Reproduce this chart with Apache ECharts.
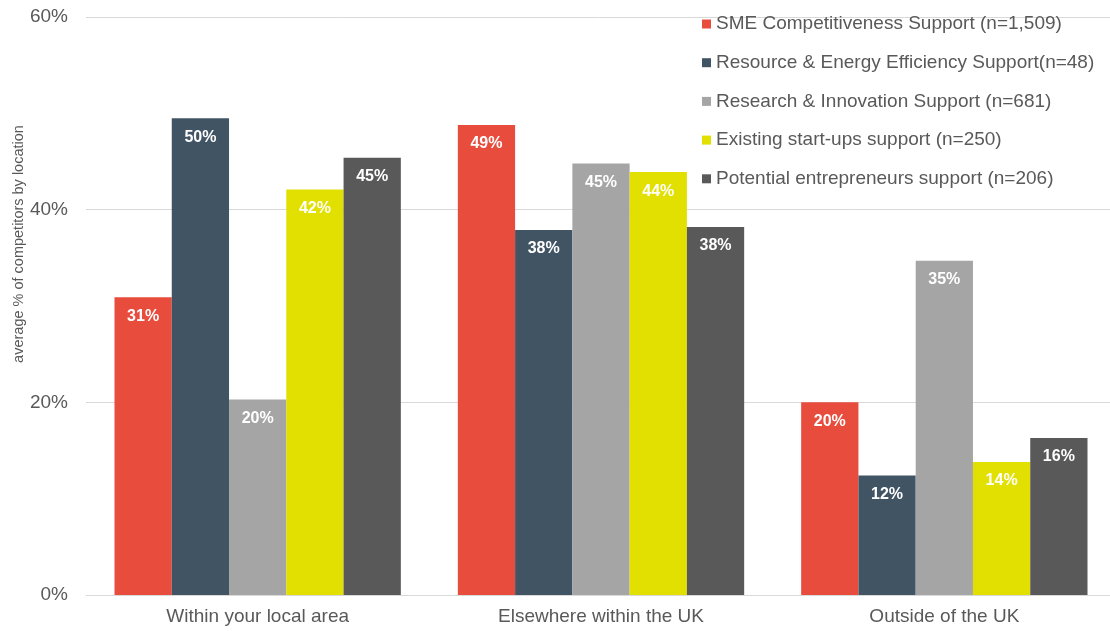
<!DOCTYPE html>
<html>
<head>
<meta charset="utf-8">
<script src="https://cdn.jsdelivr.net/npm/echarts@6/dist/echarts.min.js"></script>
<style>
  html, body { margin: 0; padding: 0; background: #fff; }
  #chart { width: 1110px; height: 631px; }
</style>
</head>
<body>
<div id="chart"></div>
<script>
// Locations competitors are based in
const categories = ['Within your local area', 'Elsewhere within the UK', 'Outside of the UK'];

// Support programme groups (legend labels)
const seriesNames = [
  'SME Competitiveness Support (n=1,509)',
  'Resource & Energy Efficiency Support(n=48)',
  'Research & Innovation Support (n=681)',
  'Existing start-ups support (n=250)',
  'Potential entrepreneurs support (n=206)'
];

// Average % of competitors by location, one array per programme
const smeCompetitiveness = [30.9, 48.8, 20.0];
const resourceEnergy = [49.5, 37.9, 12.4];
const researchInnovation = [20.3, 44.8, 34.7];
const existingStartups = [42.1, 43.9, 13.8];
const potentialEntrepreneurs = [45.4, 38.2, 16.3];

const yTicks = [0, 20, 40, 60];

const colors = ['#E84C3D', '#415464', '#A5A5A5', '#E1E000', '#595959'];
const values = [smeCompetitiveness, resourceEnergy, researchInnovation, existingStartups, potentialEntrepreneurs];

const font = 'Liberation Sans, Arial, sans-serif';
const textGray = '#595959';

const chart = echarts.init(document.getElementById('chart'));

chart.setOption({
  animation: false,
  color: colors,
  textStyle: { fontFamily: font },
  grid: { left: 86, top: 17, width: 1030, height: 578, containLabel: false, outerBoundsMode: 'none' },
  legend: {
    orient: 'vertical',
    left: 697,
    top: 9.5,
    itemWidth: 9,
    itemHeight: 9,
    itemGap: 19.7,
    icon: 'rect',
    textStyle: { fontSize: 19, color: textGray, fontFamily: font },
    data: seriesNames
  },
  xAxis: {
    type: 'category',
    data: categories,
    axisLine: { lineStyle: { color: '#D9D9D9', width: 1 } },
    axisTick: { show: false },
    axisLabel: { color: textGray, fontSize: 19, margin: 12, fontFamily: font }
  },
  yAxis: {
    type: 'value',
    min: yTicks[0],
    max: yTicks[yTicks.length - 1],
    interval: yTicks[1] - yTicks[0],
    axisLine: { show: false },
    axisTick: { show: false },
    splitLine: { lineStyle: { color: '#D9D9D9', width: 1 } },
    axisLabel: { color: textGray, fontSize: 19, margin: 18, fontFamily: font, formatter: v => v + '%' }
  },
  graphic: [{
    type: 'text',
    x: 18.5,
    y: 244,
    rotation: Math.PI / 2,
    style: {
      text: 'average % of competitors by location',
      fill: textGray,
      font: '14.5px ' + font,
      textAlign: 'center',
      textVerticalAlign: 'middle'
    }
  }],
  series: seriesNames.map((name, i) => ({
    name,
    type: 'bar',
    data: values[i],
    barGap: '0%',
    barCategoryGap: '16.6%',
    itemStyle: { color: colors[i] },
    label: {
      show: true,
      position: 'insideTop',
      distance: 11,
      color: '#fff',
      fontWeight: 'bold',
      fontSize: 16,
      fontFamily: font,
      formatter: p => Math.round(p.value) + '%'
    }
  }))
});
</script>
</body>
</html>
